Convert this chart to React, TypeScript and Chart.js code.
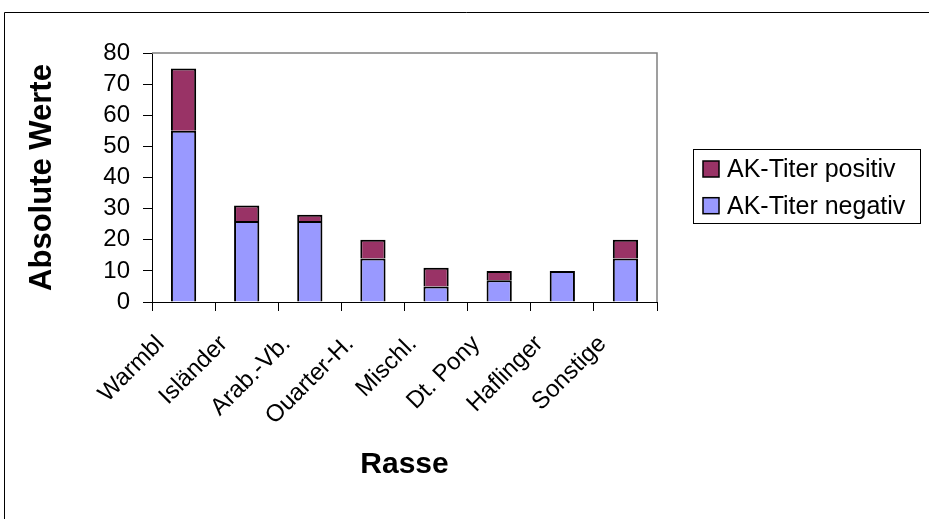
import { useEffect, useRef } from "react";
import { Chart, registerables } from "chart.js";

Chart.register(...registerables);

// Horse breeds on the category axis
const breeds = ["Warmbl", "Isländer", "Arab.-Vb.", "Ouarter-H.", "Mischl.", "Dt. Pony", "Haflinger", "Sonstige"];
// Antibody titre results per breed (absolute counts)
const negativeCounts = [55, 26, 26, 14, 5, 7, 10, 14];
const positiveCounts = [20, 5, 2, 6, 6, 3, 0, 6];
const seriesNames = ["AK-Titer negativ", "AK-Titer positiv"];
const seriesColors = ["#9999FF", "#993366"];
const yMin = 0;
const yMax = 80;
const yStep = 10;

const FONT = "Liberation Sans, Arial, sans-serif";

const framePlugin = {
  id: "frame",
  beforeDraw(chart: any) {
    const { ctx } = chart;
    ctx.save();
    ctx.fillStyle = "#fff";
    ctx.fillRect(0, 0, chart.width, chart.height);
    ctx.restore();
  },
  afterDraw(chart: any) {
    const { ctx, chartArea: a } = chart;
    ctx.save();
    // outer frame
    ctx.strokeStyle = "#000";
    ctx.lineWidth = 1;
    ctx.beginPath();
    ctx.moveTo(4.5, chart.height);
    ctx.lineTo(4.5, 12.5);
    ctx.lineTo(chart.width, 12.5);
    ctx.stroke();

    // plot area top and right edges
    ctx.strokeStyle = "#808080";
    ctx.lineWidth = 1.5;
    ctx.beginPath();
    ctx.moveTo(a.left, a.top);
    ctx.lineTo(a.right, a.top);
    ctx.lineTo(a.right, a.bottom);
    ctx.stroke();

    // legend box, series listed top to bottom as stacked
    const lx = 693.5;
    const ly = 149.5;
    ctx.strokeStyle = "#000";
    ctx.lineWidth = 1;
    ctx.strokeRect(lx, ly, 227, 74);
    const ds = chart.data.datasets.slice().reverse();
    ctx.font = `25px ${FONT}`;
    ctx.textBaseline = "alphabetic";
    ctx.textAlign = "left";
    ds.forEach((d: any, i: number) => {
      const y0 = 161 + i * 36.7;
      ctx.fillStyle = d.backgroundColor;
      ctx.fillRect(703, y0, 16, 16);
      ctx.strokeStyle = "#000";
      ctx.lineWidth = 1.5;
      ctx.strokeRect(703, y0, 16, 16);
      ctx.fillStyle = "#000";
      ctx.fillText(d.label, 727, 177.3 + i * 36.7);
    });
    ctx.restore();
  },
};

export default function App() {
  const ref = useRef<HTMLCanvasElement | null>(null);

  useEffect(() => {
    document.body.style.margin = "0";
    const canvas = ref.current;
    if (!canvas) return;
    Chart.defaults.color = "#000";
    const barStyle = {
      borderColor: "#000",
      borderWidth: 2,
      barPercentage: 0.4,
      categoryPercentage: 1,
    };
    const chart = new Chart(canvas, {
      type: "bar",
      data: {
        labels: breeds,
        datasets: [
          { label: seriesNames[0], data: negativeCounts, backgroundColor: seriesColors[0], ...barStyle },
          { label: seriesNames[1], data: positiveCounts, backgroundColor: seriesColors[1], ...barStyle },
        ],
      },
      options: {
        responsive: false,
        animation: false,
        layout: { padding: { left: 0, top: 53, right: 272, bottom: 0 } },
        plugins: {
          legend: { display: false },
          tooltip: { enabled: false },
        },
        scales: {
          x: {
            stacked: true,
            offset: true,
            afterFit: (s: any) => {
              s.height = 217;
            },
            grid: {
              offset: true,
              drawOnChartArea: false,
              drawTicks: true,
              tickLength: 9,
              color: "#000",
            },
            border: { display: true, color: "#000", width: 1 },
            ticks: {
              autoSkip: false,
              minRotation: 45,
              maxRotation: 45,
              padding: 19,
              labelOffset: -23,
              color: "#000",
              font: { family: FONT, size: 24 },
            },
            title: {
              display: true,
              text: "Rasse",
              color: "#000",
              font: { family: FONT, size: 30, weight: "bold" },
              padding: { top: 0, bottom: 36 },
            },
          },
          y: {
            stacked: true,
            min: yMin,
            max: yMax,
            afterFit: (s: any) => {
              s.width = 152;
            },
            grid: {
              drawOnChartArea: false,
              drawTicks: true,
              tickLength: 9,
              color: "#000",
            },
            border: { display: true, color: "#000", width: 1 },
            ticks: {
              stepSize: yStep,
              autoSkip: false,
              padding: 13,
              color: "#000",
              font: { family: FONT, size: 24 },
            },
            title: {
              display: true,
              text: "Absolute Werte",
              color: "#000",
              font: { family: FONT, size: 31, weight: "bold" },
              padding: { top: 24, bottom: 0 },
            },
          },
        },
      },
      plugins: [framePlugin],
    });
    return () => chart.destroy();
  }, []);

  return <canvas ref={ref} width={929} height={519} style={{ display: "block" }} />;
}
